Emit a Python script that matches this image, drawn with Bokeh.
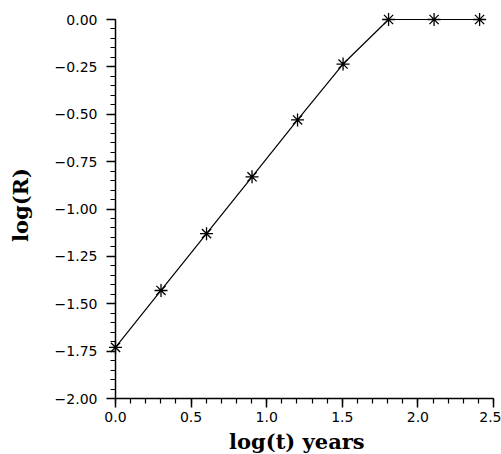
from bokeh.plotting import figure
from bokeh.models import Range1d, FixedTicker, LinearAxis
from bokeh.embed import file_html
from bokeh.resources import INLINE

# data: log(t) in years vs log(R)
log_t = [0.0, 0.301, 0.602, 0.903, 1.204, 1.505, 1.806, 2.107, 2.408]
log_r = [-1.73, -1.43, -1.13, -0.83, -0.53, -0.235, 0.0, 0.0, 0.0]

x_ticks = [0.0, 0.5, 1.0, 1.5, 2.0, 2.5]
x_tick_labels = ["0.0", "0.5", "1.0", "1.5", "2.0", "2.5"]
y_ticks = [0.0, -0.25, -0.5, -0.75, -1.0, -1.25, -1.5, -1.75, -2.0]
y_tick_labels = ["0.00", "\u22120.25", "\u22120.50", "\u22120.75", "\u22121.00",
                 "\u22121.25", "\u22121.50", "\u22121.75", "\u22122.00"]
x_minor = [i * 0.1 for i in range(26)]
y_minor = [-i * 0.05 for i in range(41)]

# layout: axes span 378 x 379 px; a small pad keeps edge markers unclipped
X0, X1, Y0, Y1 = 0.0, 2.5, -2.0, 0.0
AX_W, AX_H, PAD = 378, 379, 8
pad_x = PAD * (X1 - X0) / AX_W
pad_y = PAD * (Y1 - Y0) / AX_H

p = figure(frame_width=AX_W + PAD, frame_height=AX_H + PAD,
           x_range=Range1d(X0 - pad_x, X1), y_range=Range1d(Y0, Y1 + pad_y),
           output_backend="svg", toolbar_location=None,
           min_border_left=107, min_border_top=11, min_border_right=8,
           min_border_bottom=40)
p.outline_line_color = None
p.grid.visible = False
p.background_fill_color = "white"
p.border_fill_color = "white"

p.line(log_t, log_r, line_color="black", line_width=1.2)
p.scatter(log_t, log_r, marker="asterisk", size=13, line_color="black",
          line_width=1.3)

p.xaxis.ticker = FixedTicker(ticks=x_ticks, minor_ticks=x_minor)
p.yaxis.ticker = FixedTicker(ticks=y_ticks, minor_ticks=y_minor)
p.xaxis.major_label_overrides = {t: l for t, l in zip(x_ticks, x_tick_labels)}
p.yaxis.major_label_overrides = {t: l for t, l in zip(y_ticks, y_tick_labels)}
p.xaxis.bounds = (X0, X1)
p.yaxis.bounds = (Y0, Y1)

for ax in (p.xaxis[0], p.yaxis[0]):
    ax.axis_line_color = "black"
    ax.axis_line_width = 1.5
    ax.major_tick_line_color = "black"
    ax.minor_tick_line_color = "black"
    ax.major_tick_line_width = 1.5
    ax.minor_tick_line_width = 1.2
    ax.major_tick_in = 0
    ax.major_tick_out = 9
    ax.minor_tick_in = 0
    ax.minor_tick_out = 5
    ax.major_label_text_font = "DejaVu Sans"
    ax.major_label_text_font_size = "14px"
    ax.major_label_text_color = "black"
    ax.axis_label_text_font = "DejaVu Serif"
    ax.axis_label_text_font_style = "bold"
    ax.axis_label_text_font_size = "21px"
    ax.axis_label_text_color = "black"

# main y axis (at frame edge): labels and major ticks reaching to x = 0
ya = p.yaxis[0]
ya.axis_line_color = None
ya.minor_tick_line_color = None
ya.major_tick_in = PAD
ya.major_tick_out = 1

# second y axis fixed at x = 0: axis line and minor ticks
yb = LinearAxis(ticker=FixedTicker(ticks=y_ticks, minor_ticks=y_minor),
                bounds=(Y0, Y1), fixed_location=X0,
                axis_line_color="black", axis_line_width=1.5,
                major_tick_line_color=None,
                minor_tick_line_color="black", minor_tick_line_width=1.2,
                minor_tick_in=0, minor_tick_out=5,
                major_label_text_font_size="0px",
                major_label_text_color=None)
p.add_layout(yb, "left")

p.xaxis.axis_label = "log(t)  years"
p.yaxis[0].axis_label = "log(R)"
p.xaxis.major_label_standoff = 4
p.xaxis.axis_label_standoff = 4
ya.major_label_standoff = 5
ya.axis_label_standoff = 19

open("out.html", "w").write(file_html(p, INLINE))
